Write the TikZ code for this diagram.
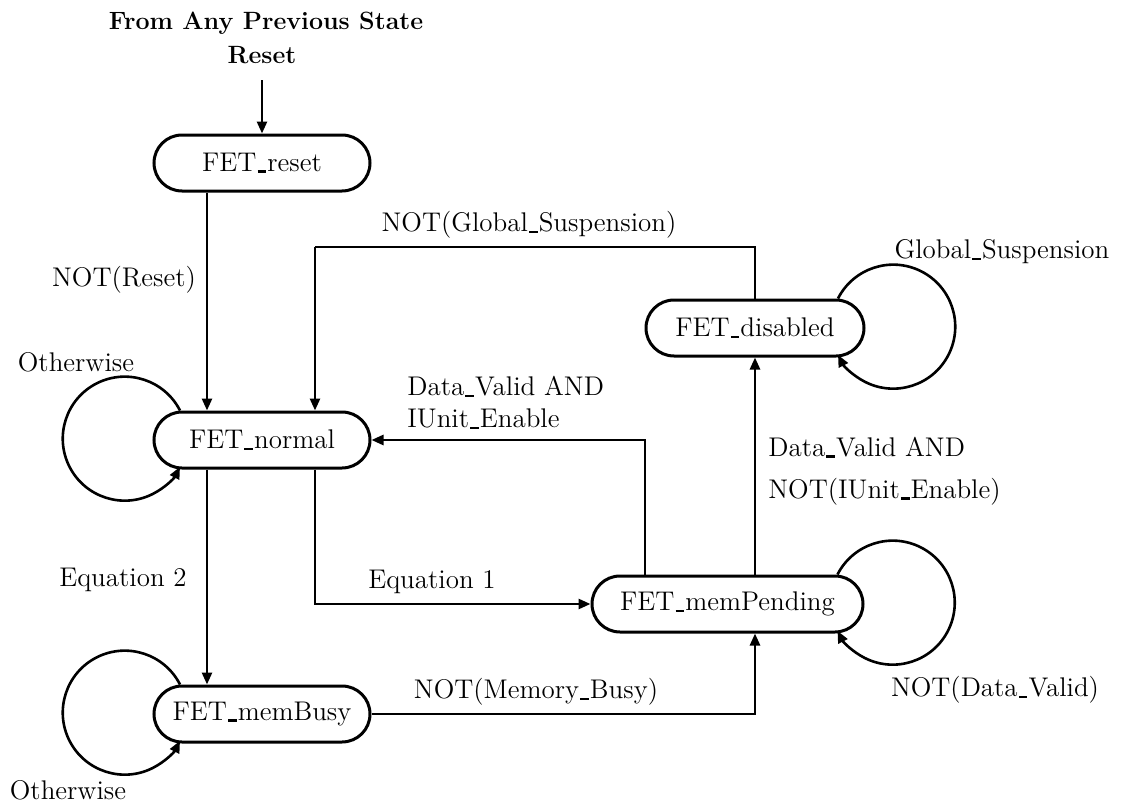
\documentclass[tikz,border=0pt]{standalone}
\usepackage{tikz}
\usetikzlibrary{arrows.meta, shapes.misc, calc}
% short low underscore as in the signal names
\newcommand{\us}{\kern0.04em\rule[-0.12ex]{0.32em}{0.09em}\kern0.04em}

\begin{document}
\begin{tikzpicture}[x=0.5pt, y=0.5pt,
    state/.style={draw, line width=1.5pt, rounded rectangle, minimum width=112pt, minimum height=28pt, inner sep=2pt, font=\fontsize{13.5}{16}\selectfont},
    lbl/.style={font=\fontsize{13.5}{16}\selectfont, inner sep=1pt},
    head/.style={font=\fontsize{12.5}{15}\selectfont\bfseries, inner sep=1pt},
    arr/.style={line width=1.3pt, -{Triangle[length=6pt, width=5pt]}},
    wire/.style={line width=1.3pt}]
  \useasboundingbox (0,0) rectangle (1121,-803);

  % vertical lanes used by the connectors
  \coordinate (laneA) at (207,0);
  \coordinate (laneB) at (315,0);
  \coordinate (laneC) at (645,0);
  \coordinate (laneD) at (755,0);
  \coordinate (gsbend) at (315,-247);
  \coordinate (entry) at (262,-80);

  % entry condition
  \node[head] (from) at (266,-23) {From Any Previous State};
  \node[head] (rst) at (262,-55) {Reset};

  % states
  \node[state] (reset) at (262,-163) {FET\us reset};
  \node[state] (normal) at (262,-440) {FET\us normal};
  \node[state] (membusy) at (262,-714) {FET\us memBusy};
  \node[state, minimum width=139.5pt] (mempend) at (727.5,-604) {FET\us memPending};
  \node[state, minimum width=113pt] (disabled) at (755,-328) {FET\us disabled};

  % transitions
  \draw[arr] (entry) -- (reset.north);
  \draw[arr] (reset.south -| laneA) -- (normal.north -| laneA);
  \node[lbl] (notreset) at (124,-280) {NOT(Reset)};

  \draw[arr] (normal.south -| laneA) -- (membusy.north -| laneA);
  \node[lbl] (eq2) at (123,-580) {Equation 2};

  \draw[arr] (normal.south -| laneB) |- (mempend.west);
  \node[lbl] (eq1) at (432,-582) {Equation 1};

  \draw[arr] (membusy.east) -| (mempend.south -| laneD);
  \node[lbl] (notmb) at (536,-692) {NOT(Memory\us Busy)};

  \draw[arr] (mempend.north -| laneC) |- (normal.east);
  \node[lbl, align=left, anchor=west] (dvie) at (405,-403) {Data\us Valid AND\\IUnit\us Enable};

  \draw[arr] (mempend.north -| laneD) -- (disabled.south -| laneD);
  \node[lbl, align=left, anchor=west] (dvnie) at (766,-471) {Data\us Valid AND\\[5pt]NOT(IUnit\us Enable)};

  \draw[wire] (disabled.north) |- (gsbend);
  \draw[arr] (gsbend) -- (normal.north -| gsbend);
  \node[lbl] (notgs) at (529,-225) {NOT(Global\us Suspension)};

  % self loops
  \draw[arr] ($(normal.north)+(-82,0)$) arc[start angle=27, end angle=333, radius=62];
  \node[lbl] (oth1) at (76,-362) {Otherwise};

  \draw[arr] ($(membusy.north)+(-82,0)$) arc[start angle=27, end angle=333, radius=62];
  \node[lbl] (oth2) at (68,-790) {Otherwise};

  \draw[arr] ($(mempend.north)+(110,0)$) arc[start angle=153, end angle=-153, radius=62];
  \node[lbl] (notdv) at (995,-690) {NOT(Data\us Valid)};

  \draw[arr] ($(disabled.north)+(83,0)$) arc[start angle=153, end angle=-153, radius=62];
  \node[lbl] (gs) at (1002,-252) {Global\us Suspension};
\end{tikzpicture}
\end{document}
